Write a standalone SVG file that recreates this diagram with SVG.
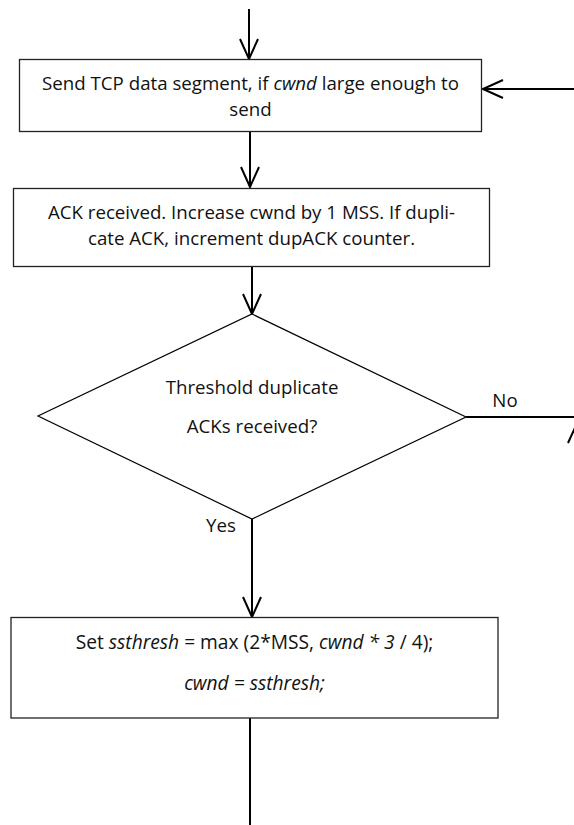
<svg xmlns="http://www.w3.org/2000/svg" width="574" height="825" viewBox="0 0 574 825">
  <style>
    .box { fill: #ffffff; stroke: #222222; stroke-width: 1.3; }
    .dia { fill: #ffffff; stroke: #000000; stroke-width: 1.2; }
    .wire { fill: none; stroke: #000000; stroke-width: 2; }
    .lbl { font-family: "Open Sans", "Noto Sans", "Liberation Sans", sans-serif; font-size: 18.7px; fill: #111111; text-anchor: middle; }
    .it { font-style: italic; }
  </style>
  <defs>
    <marker id="vee" markerUnits="userSpaceOnUse" viewBox="-22 -11 24 22" refX="0" refY="0" markerWidth="24" markerHeight="22" orient="auto">
      <path d="M-20,-9 L0,0 L-20,9" fill="none" stroke="#000000" stroke-width="2"/>
    </marker>
  </defs>

  <!-- connectors -->
  <g id="connectors">
    <line class="wire" x1="249" y1="9" x2="249" y2="59" marker-end="url(#vee)"/>
    <line class="wire" x1="250" y1="132" x2="250" y2="187" marker-end="url(#vee)"/>
    <line class="wire" x1="252" y1="267" x2="252" y2="314" marker-end="url(#vee)"/>
    <line class="wire" x1="252" y1="519" x2="252" y2="617" marker-end="url(#vee)"/>
    <line class="wire" x1="250" y1="718" x2="250" y2="825"/>
    <!-- "No" branch leaving to the right -->
    <line class="wire" x1="466" y1="417" x2="574" y2="417"/>
    <line class="wire" x1="568" y1="443" x2="578" y2="421"/>
    <!-- loop back into the send step -->
    <line class="wire" x1="574" y1="89" x2="483" y2="89" marker-end="url(#vee)"/>
    <text class="lbl" x="505" y="407">No</text>
    <text class="lbl" x="221" y="532">Yes</text>
  </g>

  <g id="send">
    <rect class="box" x="19.5" y="59.5" width="462" height="72"/>
    <text class="lbl" x="250.5" y="90">Send TCP data segment, if <tspan class="it">cwnd</tspan> large enough to</text>
    <text class="lbl" x="250.5" y="116">send</text>
  </g>

  <g id="ack">
    <rect class="box" x="13.5" y="188.5" width="476" height="78"/>
    <text class="lbl" x="251.5" y="219">ACK received. Increase cwnd by 1 MSS. If dupli-</text>
    <text class="lbl" x="251.5" y="245">cate ACK, increment dupACK counter.</text>
  </g>

  <g id="decision">
    <polygon class="dia" points="252,314 466,417 252,519 38,416"/>
    <text class="lbl" x="252" y="394">Threshold duplicate</text>
    <text class="lbl" x="252" y="433">ACKs received?</text>
  </g>

  <g id="reduce">
    <rect class="box" x="11" y="617.5" width="487" height="100.5"/>
    <text class="lbl" x="254.5" y="649" style="font-size:19.2px">Set <tspan class="it">ssthresh</tspan> = max (2*MSS, <tspan class="it">cwnd * 3</tspan> / 4);</text>
    <text class="lbl it" x="254.5" y="690" style="font-size:19.2px">cwnd = ssthresh;</text>
  </g>
</svg>
